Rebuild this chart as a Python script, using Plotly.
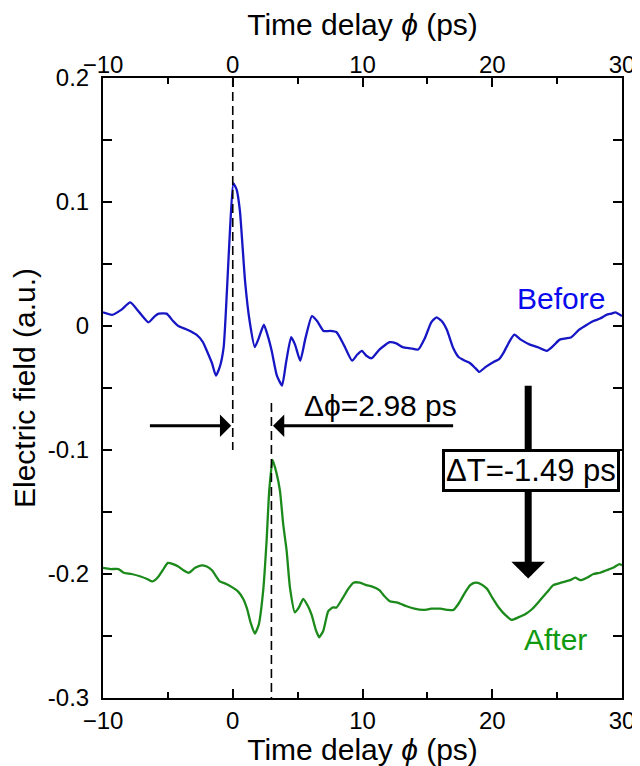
import plotly.graph_objects as go

# ---------------- data ----------------
before_x = [-10, -9.3, -8.6, -7.9, -7.2, -6.5, -6.0, -5.7, -5.1, -4.6, -4.2, -3.5, -2.8, -2.3, -2.0,
            -1.6, -1.3, -1.0, -0.7, -0.45, -0.2, 0.05, 0.3, 0.55, 0.75, 0.95, 1.3, 1.7, 2.0, 2.4,
            2.7, 3.0, 3.4, 3.8, 4.1, 4.5, 4.8, 5.2, 5.6, 6.1, 6.5, 7.0, 7.5, 8.0, 8.6, 9.2, 9.6,
            9.95, 10.3, 10.7, 11.3, 12.1, 12.6, 13.1, 13.7, 14.3, 14.8, 15.3, 15.7, 16.1, 16.5,
            17.0, 17.4, 17.9, 18.3, 18.7, 19.0, 19.5, 20.1, 20.5, 20.9, 21.3, 21.7, 22.2, 22.9,
            23.5, 24.2, 24.7, 25.2, 25.7, 26.1, 26.7, 27.3, 27.8, 28.3, 28.8, 29.2, 29.5, 30.0]
before_y = [0.011, 0.009, 0.013, 0.019, 0.011, 0.003, 0.008, 0.010, 0.010, 0.004, 0.000, -0.003,
            -0.007, -0.013, -0.020, -0.030, -0.040, -0.033, -0.017, 0.028, 0.080, 0.115, 0.110,
            0.093, 0.065, 0.036, 0.004, -0.017, -0.010, 0.001, -0.008, -0.020, -0.040, -0.048,
            -0.030, -0.009, -0.015, -0.028, -0.010, 0.008, 0.004, -0.004, -0.004, -0.005, -0.016,
            -0.028, -0.023, -0.020, -0.024, -0.026, -0.019, -0.013, -0.014, -0.017, -0.018,
            -0.019, -0.010, 0.003, 0.007, 0.004, -0.003, -0.018, -0.025, -0.028, -0.030, -0.034,
            -0.037, -0.033, -0.029, -0.027, -0.021, -0.013, -0.007, -0.011, -0.015, -0.017,
            -0.020, -0.016, -0.011, -0.010, -0.009, -0.003, 0.001, 0.004, 0.006, 0.009, 0.010,
            0.011, 0.008]

after_x = [-10, -9.4, -8.8, -8.4, -7.8, -7.1, -6.6, -6.2, -5.8, -5.4, -5.0, -4.6, -4.2, -3.8,
           -3.4, -2.9, -2.4, -2.0, -1.6, -1.0, -0.5, 0.0, 0.4, 0.8, 1.1, 1.4, 1.7, 2.0, 2.35,
           2.61, 2.81, 3.07, 3.38, 3.64, 3.89, 4.15, 4.41, 4.79, 5.1, 5.43, 5.8, 6.08, 6.4, 6.66,
           6.97, 7.36, 7.7, 8.0, 8.5, 8.9, 9.3, 9.8, 10.3, 10.7, 11.3, 11.7, 12.1, 12.7, 13.4,
           14.0, 14.7, 15.3, 16.0, 16.6, 17.0, 17.4, 17.9, 18.3, 18.7, 19.1, 19.6, 20.0, 20.5,
           21.0, 21.5, 22.0, 22.6, 23.1, 23.7, 24.2, 24.7, 25.3, 26.0, 26.4, 26.8, 27.3, 27.8,
           28.3, 28.8, 29.3, 29.8, 30.0]
after_y = [-0.195, -0.196, -0.196, -0.199, -0.200, -0.202, -0.204, -0.206, -0.203, -0.197, -0.191,
           -0.192, -0.194, -0.197, -0.199, -0.195, -0.193, -0.194, -0.197, -0.206, -0.208, -0.211,
           -0.214, -0.220, -0.228, -0.240, -0.248, -0.241, -0.213, -0.173, -0.133, -0.108,
           -0.119, -0.133, -0.160, -0.181, -0.211, -0.231, -0.227, -0.220, -0.226, -0.233,
           -0.245, -0.251, -0.246, -0.230, -0.227, -0.227, -0.219, -0.212, -0.207, -0.207,
           -0.209, -0.210, -0.213, -0.218, -0.222, -0.223, -0.226, -0.228, -0.229, -0.228,
           -0.228, -0.229, -0.229, -0.224, -0.215, -0.209, -0.207, -0.208, -0.212, -0.219,
           -0.227, -0.233, -0.237, -0.235, -0.232, -0.228, -0.221, -0.215, -0.209, -0.207,
           -0.205, -0.203, -0.205, -0.203, -0.200, -0.199, -0.197, -0.195, -0.192, -0.193]

x_ticks = [-10, 0, 10, 20, 30]
y_ticks = [0.2, 0.1, 0, -0.1, -0.2, -0.3]
y_tick_text = ["0.2", "0.1", "0", "-0.1", "-0.2", "-0.3"]

phi_before = 0.0
phi_after = 2.98
arrow_y = -0.0805
big_arrow_x = 22.77
big_arrow_top = -0.047
big_arrow_tip = -0.2037

BLUE_LINE = "#1616c4"
BLUE_TEXT = "#0a0aee"
GREEN_LINE = "#1b8a1b"
GREEN_TEXT = "#109a10"
FONT = "Liberation Sans, Arial, sans-serif"

fig = go.Figure()
fig.add_trace(go.Scatter(x=before_x, y=before_y, mode="lines",
                         line=dict(color=BLUE_LINE, width=2.3, shape="spline", smoothing=0.5),
                         showlegend=False, hoverinfo="skip"))
fig.add_trace(go.Scatter(x=after_x, y=after_y, mode="lines",
                         line=dict(color=GREEN_LINE, width=2.3, shape="spline", smoothing=0.5),
                         showlegend=False, hoverinfo="skip"))
# invisible trace to activate top axis
fig.add_trace(go.Scatter(x=[-10, 30], y=[0, 0], xaxis="x2", mode="lines",
                         line=dict(color="rgba(0,0,0,0)"), showlegend=False, hoverinfo="skip"))

# dashed reference lines
fig.add_shape(type="line", x0=phi_before, x1=phi_before, y0=0.2, y1=-0.1, xref="x", yref="y",
              line=dict(color="black", width=1.6, dash="9px,5px"))
fig.add_shape(type="line", x0=phi_after, x1=phi_after, y0=-0.062, y1=-0.3, xref="x", yref="y",
              line=dict(color="black", width=1.6, dash="9px,5px"))

ann = []
# horizontal arrows
ann.append(dict(x=-0.12, y=arrow_y, ax=-6.5, ay=arrow_y, xref="x", yref="y", axref="x", ayref="y",
                text="", showarrow=True, arrowhead=1, arrowsize=1.25, arrowwidth=3, arrowcolor="black"))
ann.append(dict(x=3.1, y=arrow_y, ax=17.1, ay=arrow_y, xref="x", yref="y", axref="x", ayref="y",
                text="", showarrow=True, arrowhead=1, arrowsize=1.25, arrowwidth=3, arrowcolor="black"))
# big vertical arrow
ann.append(dict(x=big_arrow_x, y=big_arrow_tip, ax=big_arrow_x, ay=big_arrow_top, xref="x", yref="y",
                axref="x", ayref="y", text="", showarrow=True, arrowhead=1, arrowsize=0.8,
                arrowwidth=7, arrowcolor="black"))
# texts
ann.append(dict(x=11.4, y=-0.0645, xref="x", yref="y", text="Δϕ=2.98 ps", showarrow=False,
                font=dict(family=FONT, size=30, color="black")))
ann.append(dict(x=22.95, y=-0.1165, xref="x", yref="y", text="ΔT=-1.49 ps", showarrow=False,
                font=dict(family=FONT, size=31, color="black"), bgcolor="white",
                bordercolor="black", borderwidth=3, borderpad=1))
ann.append(dict(x=25.3, y=0.022, xref="x", yref="y", text="Before", showarrow=False,
                font=dict(family=FONT, size=30, color=BLUE_TEXT)))
ann.append(dict(x=24.9, y=-0.253, xref="x", yref="y", text="After", showarrow=False,
                font=dict(family=FONT, size=30, color=GREEN_TEXT)))

axis_common = dict(showline=True, linecolor="black", linewidth=2, ticks="inside",
                   tickcolor="black", tickwidth=1.6, showgrid=False, zeroline=False,
                   automargin=False,
                   tickfont=dict(family=FONT, size=24, color="black"))

# the page body adds an 8px offset, so the figure is drawn 8px smaller
fig.update_layout(
    width=632, height=758,
    margin=dict(l=95, r=18, t=70, b=68),
    paper_bgcolor="white", plot_bgcolor="white",
    font=dict(family=FONT, color="black"),
    annotations=ann,
    xaxis=dict(range=[-10, 30], tickvals=x_ticks, ticklen=9,
               minor=dict(dtick=5, tick0=0, ticklen=6, ticks="inside", tickcolor="black", tickwidth=1.6),
               title=dict(text="Time delay <i>ϕ</i> (ps)", font=dict(family=FONT, size=30), standoff=1),
               **axis_common),
    xaxis2=dict(range=[-10, 30], tickvals=x_ticks, ticklen=9, overlaying="x", side="top", anchor="y",
                ticklabelstandoff=-7,
                minor=dict(dtick=5, tick0=0, ticklen=6, ticks="inside", tickcolor="black", tickwidth=1.6),
                title=dict(text="Time delay <i>ϕ</i> (ps)", font=dict(family=FONT, size=30), standoff=7),
                **axis_common),
    yaxis=dict(range=[-0.3, 0.2], tickvals=y_ticks, ticktext=y_tick_text, ticklen=9, mirror="ticks",
               ticklabelstandoff=7,
               minor=dict(dtick=0.05, tick0=0, ticklen=9, ticks="inside", tickcolor="black", tickwidth=1.6),
               title=dict(text="Electric field (a.u.)", font=dict(family=FONT, size=30), standoff=3),
               **axis_common),
)

fig.write_html("out.html")
